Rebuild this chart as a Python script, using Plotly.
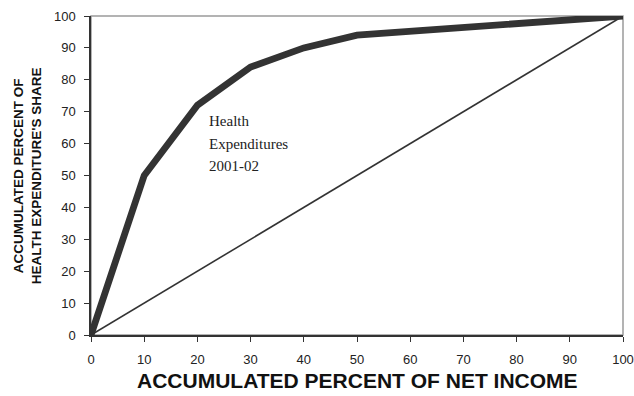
import plotly.graph_objects as go

income_pct = [0, 10, 20, 30, 40, 50, 100]
health_share = [0, 50, 72, 84, 90, 94, 100]
equality_x = [0, 10, 20, 30, 40, 50, 60, 70, 80, 90, 100]
equality_y = [0, 10, 20, 30, 40, 50, 60, 70, 80, 90, 100]
tick_vals = [0, 10, 20, 30, 40, 50, 60, 70, 80, 90, 100]
label_lines = ["Health", "Expenditures", "2001-02"]
label_y = [67, 59.8, 52.9]
label_x = 21.8

fig = go.Figure()
fig.add_trace(go.Scatter(x=equality_x, y=equality_y, mode="lines",
                         line=dict(color="#333333", width=1.6), showlegend=False,
                         cliponaxis=False))
fig.add_trace(go.Scatter(x=income_pct, y=health_share, mode="lines",
                         line=dict(color="#333333", width=6.8), showlegend=False,
                         cliponaxis=False))

annotations = [
    dict(text="<b>ACCUMULATED PERCENT OF NET INCOME</b>", xref="paper", yref="paper",
         x=0.5, y=-0.142, xanchor="center", yanchor="middle", showarrow=False,
         font=dict(size=21, family="Liberation Sans, Arial, sans-serif", color="#111111")),
    dict(text="<b>ACCUMULATED PERCENT OF</b><br><b>HEALTH EXPENDITURE'S SHARE</b>",
         xref="paper", yref="paper", x=-0.119, y=0.5, xanchor="center", yanchor="middle",
         showarrow=False, textangle=-90,
         font=dict(size=13.5, family="Liberation Sans, Arial, sans-serif", color="#111111")),
]
for txt, yy in zip(label_lines, label_y):
    annotations.append(dict(text=txt, xref="x", yref="y", x=label_x, y=yy,
                            xanchor="left", yanchor="middle", showarrow=False,
                            font=dict(size=15, family="Liberation Serif, Times New Roman, serif",
                                      color="#222222")))

fig.update_layout(
    width=634, height=396, autosize=False,
    margin=dict(l=91, r=11, t=16, b=61, autoexpand=False),
    paper_bgcolor="white", plot_bgcolor="white",
    font=dict(family="Liberation Sans, Arial, sans-serif", color="#222222", size=13),
    xaxis=dict(range=[0, 100], tickvals=tick_vals, showgrid=False, zeroline=False,
               showline=True, linecolor="#333333", linewidth=1.5,
               ticks="outside", ticklen=5, tickcolor="#333333", tickwidth=1,
               tickfont=dict(size=13), ticklabelstandoff=7, automargin=False),
    yaxis=dict(range=[0, 100], tickvals=tick_vals, showgrid=False, zeroline=False,
               showline=True, linecolor="#333333", linewidth=1.5,
               ticks="outside", ticklen=5, tickcolor="#333333", tickwidth=1,
               tickfont=dict(size=13), ticklabelstandoff=6, automargin=False),
    shapes=[dict(type="rect", xref="paper", yref="paper", x0=0, y0=0, x1=1, y1=1,
                 line=dict(color="#9a9a9a", width=1.5), layer="below")],
    annotations=annotations,
)
fig.write_html("out.html", config={"responsive": False, "displayModeBar": False},
               post_script="document.body.style.margin='0';document.body.style.overflow='hidden';")
